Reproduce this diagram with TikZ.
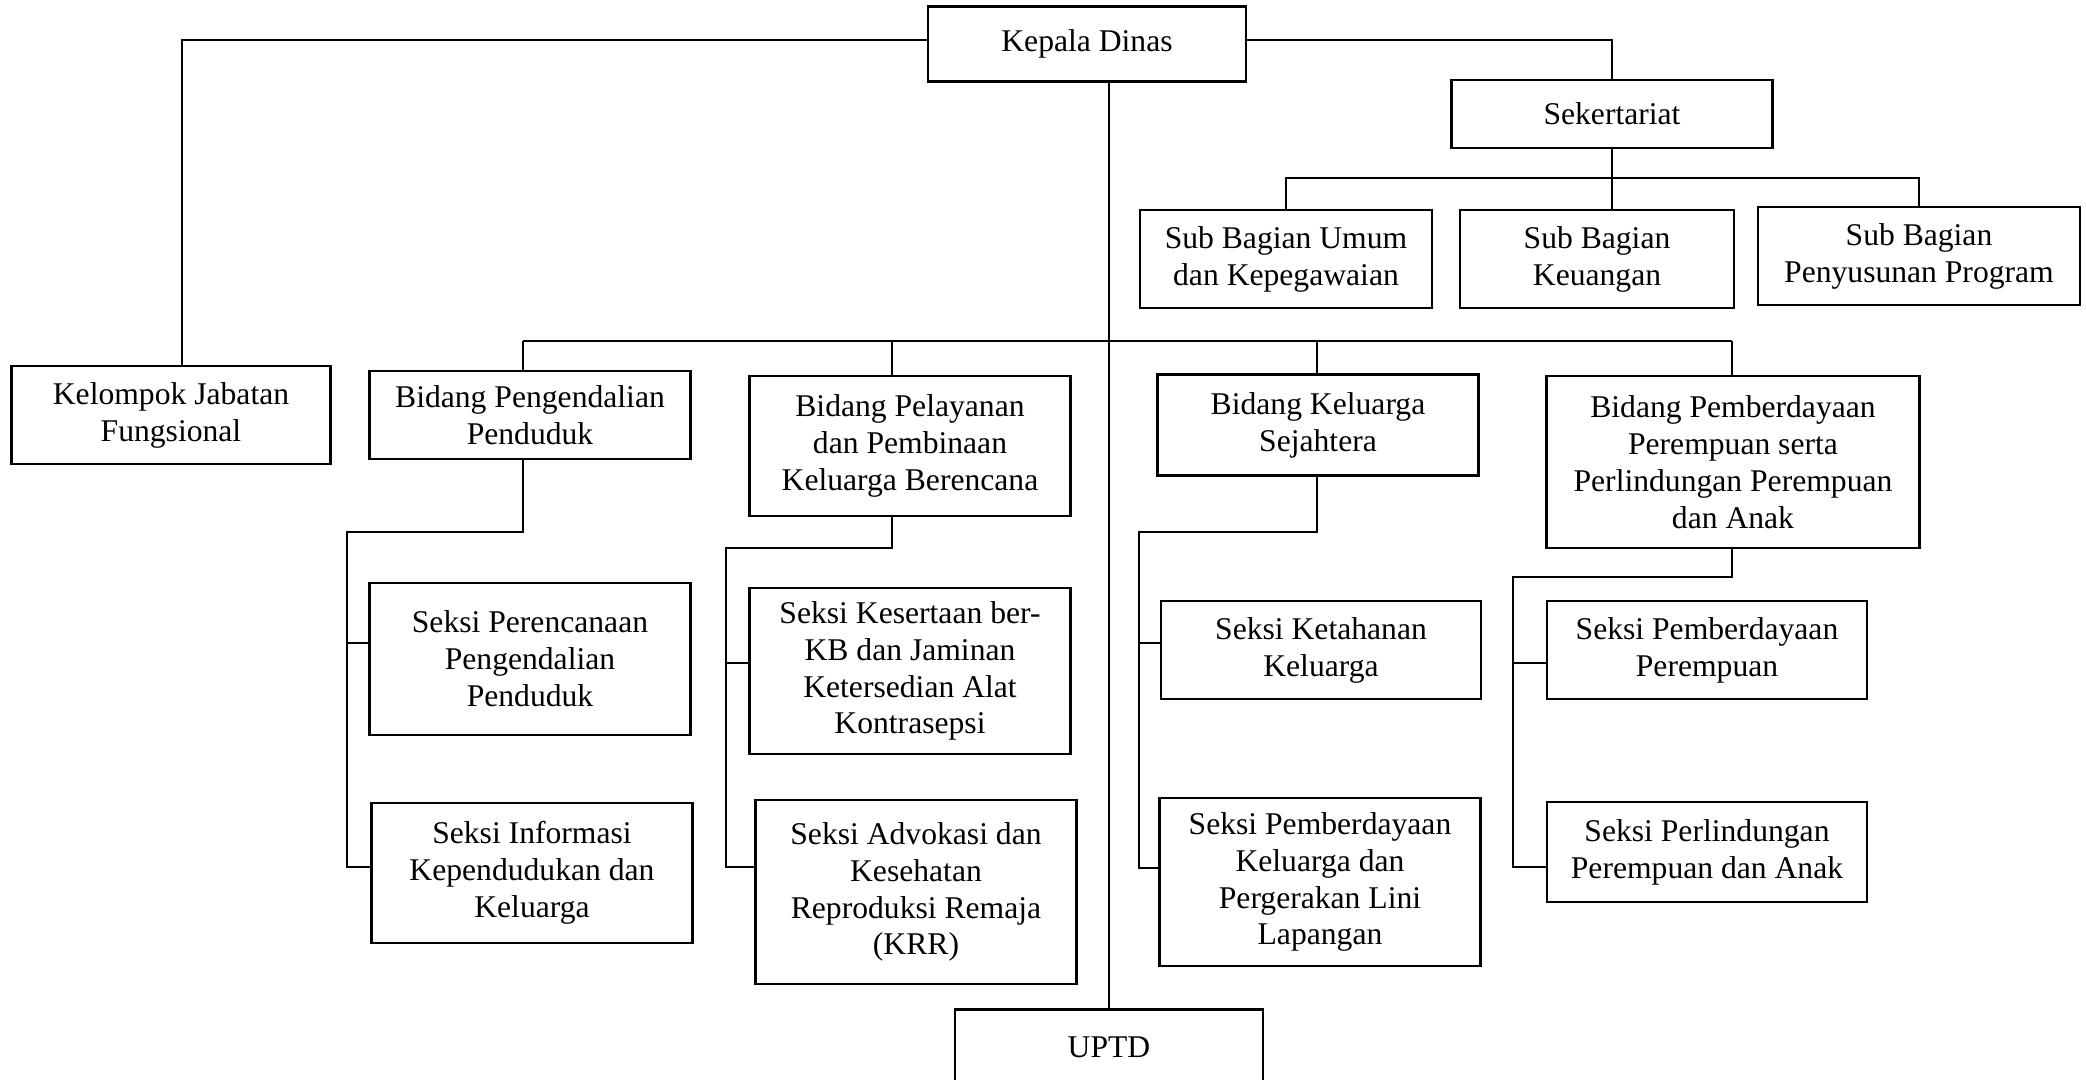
\documentclass[tikz,border=0pt]{standalone}
\usepackage{fontspec}
\setmainfont{Liberation Serif}
\usetikzlibrary{positioning}
\newdimen\px \px=0.02cm
\newcommand{\orgfont}{\fontsize{18}{21}\selectfont}

\begin{document}
\begin{tikzpicture}[x=\px, y=-\px, bx/.style 2 args={draw, line width=1.4pt, align=center, font=\orgfont, inner sep=1pt, minimum width=#1\px, minimum height=#2\px}, ln/.style={line width=0.6pt}]
\useasboundingbox (0,0) rectangle (2086,1079);
\node[bx={318}{75}] (kadis) at (1087,44) {Kepala Dinas};
\node[bx={321}{68}] (sekre) at (1612,114) {Sekertariat};
\node[bx={292}{98}] (sbUmum) at (1286,259) {Sub Bagian Umum\\dan Kepegawaian};
\node[bx={274}{98}] (sbKeu) at (1597,259) {Sub Bagian\\Keuangan};
\node[bx={322}{98}] (sbProg) at (1919,256) {Sub Bagian\\Penyusunan Program};
\node[bx={319}{98}] (kjf) at (171,415) {Kelompok Jabatan\\Fungsional};
\node[bx={321}{88}] (bPP) at (530,415) {Bidang Pengendalian\\Penduduk};
\node[bx={321}{140}] (bPKB) at (910,446) {Bidang Pelayanan\\dan Pembinaan\\Keluarga Berencana};
\node[bx={321}{101}] (bKS) at (1318,425) {Bidang Keluarga\\Sejahtera};
\node[bx={373}{172}] (bPPPA) at (1733,462) {Bidang Pemberdayaan\\Perempuan serta\\Perlindungan Perempuan\\dan Anak};
\node[bx={321}{152}] (sPPP) at (530,659) {Seksi Perencanaan\\Pengendalian\\Penduduk};
\node[bx={321}{140}] (sIKK) at (532,873) {Seksi Informasi\\Kependudukan dan\\Keluarga};
\node[bx={321}{166}] (sKB) at (910,671) {Seksi Kesertaan ber-\\KB dan Jaminan\\Ketersedian Alat\\Kontrasepsi};
\node[bx={321}{184}] (sKRR) at (916,892) {Seksi Advokasi dan\\Kesehatan\\Reproduksi Remaja\\(KRR)};
\node[bx={320}{98}] (sKK) at (1321,650) {Seksi Ketahanan\\Keluarga};
\node[bx={321}{168}] (sPKL) at (1320,882) {Seksi Pemberdayaan\\Keluarga dan\\Pergerakan Lini\\Lapangan};
\node[bx={320}{98}] (sPP) at (1707,650) {Seksi Pemberdayaan\\Perempuan};
\node[bx={320}{100}] (sPPA) at (1707,852) {Seksi Perlindungan\\Perempuan dan Anak};
\node[bx={308}{75}] (uptd) at (1109,1047) {UPTD};
\draw[ln] ([yshift=4\px]kadis.west) -| ([xshift=11\px]kjf.north);
\draw[ln] ([yshift=4\px]kadis.east) -| (sekre.north);
\draw[ln] (kadis.south -| uptd.north) -- (uptd.north);
\coordinate (sekBus) at (1606,178);
\draw[ln] (sekre.south) -- (sekre.south |- sbKeu.north);
\draw[ln] (sbUmum.north) |- (sekBus) -| (sbProg.north);
\coordinate (dPP) at (523,341);
\coordinate (dPKB) at (892,341);
\coordinate (dKS) at (1317,341);
\coordinate (dPPPA) at (1732,341);
\draw[ln] (dPP) -- (dPPPA);
\foreach \d/\b in {dPP/bPP, dPKB/bPKB, dKS/bKS, dPPPA/bPPPA}
  \draw[ln] (\d) -- (\d |- \b.north);
\coordinate (tA) at (347,532); \coordinate (tA1) at (347,643); \coordinate (tA2) at (347,867);
\draw[ln] (dPP |- bPP.south) |- (tA) -- (tA2) -- (tA2 -| sIKK.west);
\draw[ln] (tA1) -- (tA1 -| sPPP.west);
\coordinate (tB) at (726,548); \coordinate (tB1) at (726,663); \coordinate (tB2) at (726,867);
\draw[ln] (dPKB |- bPKB.south) |- (tB) -- (tB2) -- (tB2 -| sKRR.west);
\draw[ln] (tB1) -- (tB1 -| sKB.west);
\coordinate (tC) at (1139,532); \coordinate (tC1) at (1139,643); \coordinate (tC2) at (1139,868);
\draw[ln] (dKS |- bKS.south) |- (tC) -- (tC2) -- (tC2 -| sPKL.west);
\draw[ln] (tC1) -- (tC1 -| sKK.west);
\coordinate (tD) at (1513,577); \coordinate (tD1) at (1513,663); \coordinate (tD2) at (1513,867);
\draw[ln] (dPPPA |- bPPPA.south) |- (tD) -- (tD2) -- (tD2 -| sPPA.west);
\draw[ln] (tD1) -- (tD1 -| sPP.west);
\end{tikzpicture}
\end{document}
